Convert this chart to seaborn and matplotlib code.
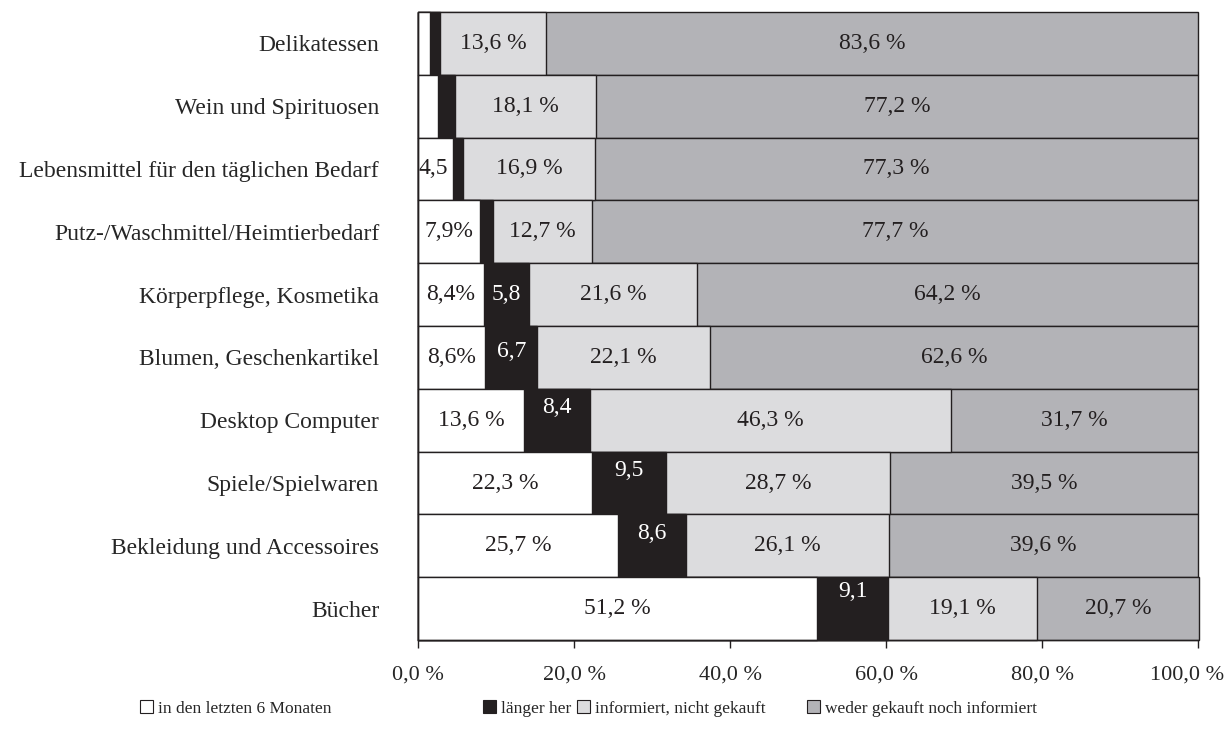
import pandas as pd
import matplotlib.pyplot as plt
import matplotlib.transforms as mtransforms
import seaborn as sns
from matplotlib.patches import Patch

categories = ["Delikatessen", "Wein und Spirituosen", "Lebensmittel für den täglichen Bedarf",
              "Putz-/Waschmittel/Heimtierbedarf", "Körperpflege, Kosmetika", "Blumen, Geschenkartikel",
              "Desktop Computer", "Spiele/Spielwaren", "Bekleidung und Accessoires", "Bücher"]

recent = [1.5, 2.6, 4.5, 7.9, 8.4, 8.6, 13.6, 22.3, 25.7, 51.2]
older = [1.3, 2.1, 1.3, 1.7, 5.8, 6.7, 8.4, 9.5, 8.6, 9.1]
informed = [13.6, 18.1, 16.9, 12.7, 21.6, 22.1, 46.3, 28.7, 26.1, 19.1]
neither = [83.6, 77.2, 77.3, 77.7, 64.2, 62.6, 31.7, 39.5, 39.6, 20.7]

recent_labels = ["", "", "4,5", "7,9%", "8,4%", "8,6%", "13,6 %", "22,3 %", "25,7 %", "51,2 %"]
older_labels = ["", "", "", "", "5,8", "6,7", "8,4", "9,5", "8,6", "9,1"]
informed_labels = ["13,6 %", "18,1 %", "16,9 %", "12,7 %", "21,6 %", "22,1 %", "46,3 %", "28,7 %", "26,1 %", "19,1 %"]
neither_labels = ["83,6 %", "77,2 %", "77,3 %", "77,7 %", "64,2 %", "62,6 %", "31,7 %", "39,5 %", "39,6 %", "20,7 %"]

xtick_vals = [0, 20, 40, 60, 80, 100]
xtick_labels = ["0,0 %", "20,0 %", "40,0 %", "60,0 %", "80,0 %", "100,0 %"]

series = ["in den letzten 6 Monaten", "länger her", "informiert, nicht gekauft", "weder gekauft noch informiert"]
colors = ["#FFFFFF", "#231F20", "#DCDCDE", "#B3B3B7"]

df = pd.DataFrame({"cat": categories, "s0": recent, "s1": older, "s2": informed, "s3": neither})
df["c0"] = df["s0"]
df["c1"] = df["c0"] + df["s1"]
df["c2"] = df["c1"] + df["s2"]
df["c3"] = df["c2"] + df["s3"]

sns.set_style("white")
plt.rcParams["font.family"] = ["Liberation Serif", "DejaVu Serif"]
plt.rcParams["font.size"] = 17

fig = plt.figure(figsize=(12.28, 7.34), dpi=100)
ax = fig.add_axes([0.3404, 0.128, 0.6352, 0.8557])

# stacked bars drawn as overlapping cumulative bars, widest first
for col, color in zip(["c3", "c2", "c1", "c0"], colors[::-1]):
    sns.barplot(data=df, y="cat", x=col, orient="h", color=color, width=1.0,
                edgecolor="#231F20", linewidth=1.0, saturation=1, ax=ax)

for p in ax.patches:
    p.set_clip_on(False)

# small vertical nudges for the white labels in the black segments
older_dy = [0, 0, 0, 0, 0.0, -0.1, -0.2, -0.2, -0.2, -0.27]

label_sets = [(recent_labels, "s0", "c0", "#231F20", [0] * 10),
              (older_labels, "s1", "c1", "white", older_dy),
              (informed_labels, "s2", "c2", "#231F20", [0] * 10),
              (neither_labels, "s3", "c3", "#231F20", [0] * 10)]
for labels, s, c, tcol, dys in label_sets:
    for i, lab in enumerate(labels):
        if not lab:
            continue
        xc = df[c][i] - df[s][i] / 2
        if lab == "4,5":
            ax.text(0.0, i, lab, ha="left", va="center", color=tcol, fontsize=17)
        else:
            ax.text(xc, i + dys[i], lab, ha="center", va="center", color=tcol, fontsize=17)

ax.set_xlim(0, 100)
ax.set_ylim(9.5, -0.5)
ax.set_xticks(xtick_vals)
ax.set_xticklabels(xtick_labels)
ax.set_xlabel("")
ax.set_ylabel("")
ax.set_yticks(range(len(categories)))
ax.set_yticklabels(categories)
ax.set_yticks([i - 0.5 for i in range(len(categories) + 1)], minor=True)
ax.tick_params(axis="y", which="major", length=0, pad=28, labelsize=17)
ax.tick_params(axis="y", which="minor", length=7, width=1, direction="out", color="#231F20")
ax.tick_params(axis="x", which="major", length=6, width=1, direction="out", pad=12,
               color="#231F20", labelsize=16, bottom=True)
# keep the last tick label inside the figure
last = ax.get_xticklabels()[-1]
last.set_transform(last.get_transform() + mtransforms.ScaledTranslation(-8 / 72, 0, fig.dpi_scale_trans))
for side in ["top", "right"]:
    ax.spines[side].set_visible(False)
for side in ["left", "bottom"]:
    ax.spines[side].set_color("#231F20")
    ax.spines[side].set_linewidth(1.0)

# legend entries placed individually along the bottom
legend_x = [0.114, 0.393, 0.470, 0.657]
for name, color, lx in zip(series, colors, legend_x):
    h = Patch(facecolor=color, edgecolor="#231F20", linewidth=0.8)
    fig.legend(handles=[h], labels=[name], loc="center left", bbox_to_anchor=(lx, 0.035),
               frameon=False, fontsize=12.5, handlelength=0.75, handleheight=0.75,
               handletextpad=0.3, borderpad=0, borderaxespad=0)

fig.savefig("out.png", dpi=100)
